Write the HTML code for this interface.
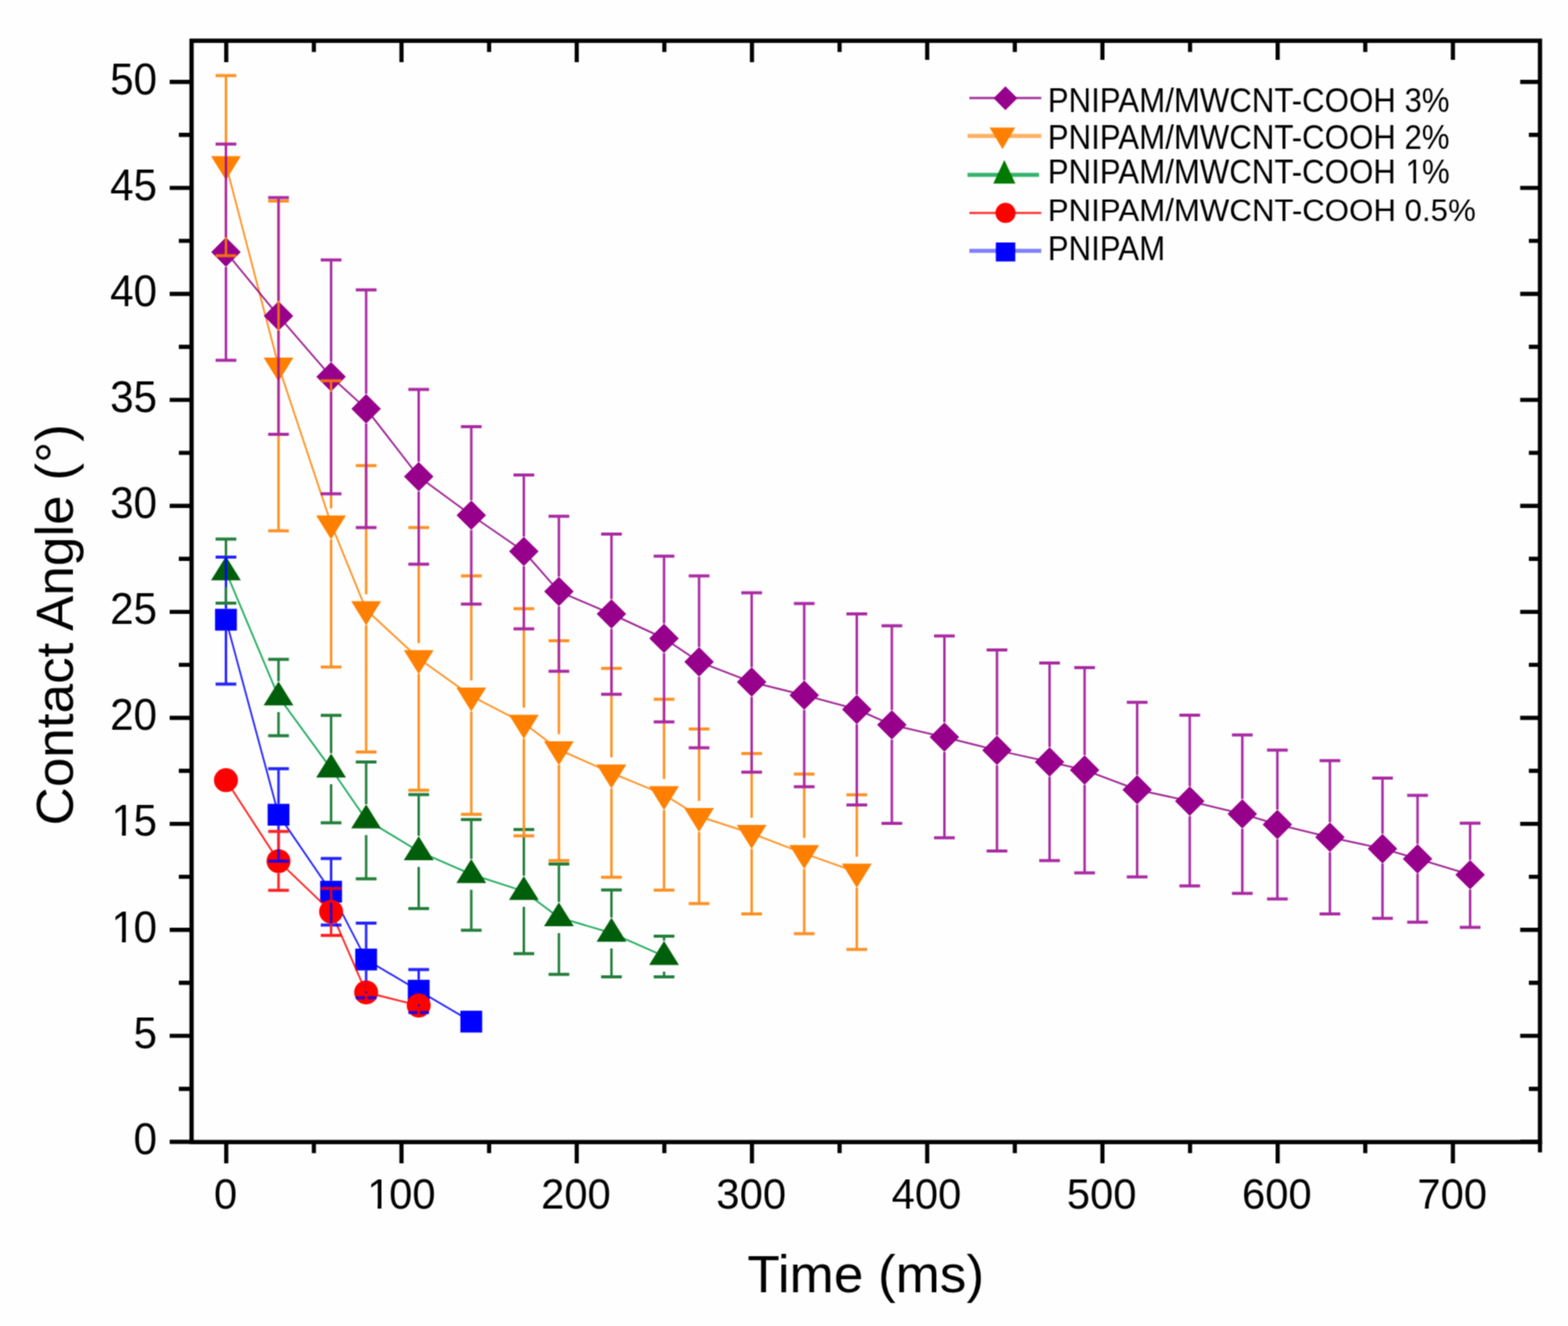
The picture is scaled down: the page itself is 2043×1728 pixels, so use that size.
<!DOCTYPE html>
<html lang="en"><head><meta charset="utf-8">
<title>Contact Angle vs Time</title>
<style>
html,body{margin:0;padding:0;background:#fff;}
body{width:2043px;height:1728px;}
svg{display:block;}
text{font-family:"Liberation Sans",sans-serif;fill:#000;}
.tk{font-size:56.4px;}
.ax{font-size:69.1px;}
.lg{font-size:40.7px;}
</style></head><body>
<svg width="2043" height="1728" viewBox="0 0 2043 1728">
<defs><filter id="soft" x="0" y="0" width="2043" height="1728" filterUnits="userSpaceOnUse" color-interpolation-filters="sRGB"><feConvolveMatrix order="3" kernelMatrix="1 2 1 2 5 2 1 2 1" divisor="17" edgeMode="duplicate" preserveAlpha="true"/></filter></defs>
<rect width="2043" height="1728" fill="#fefefe"/>
<g filter="url(#soft)">
<rect width="2043" height="1728" fill="#fefefe"/>
<g id="series">
<polyline points="294.4,807.57 362.9,1061.73 431.39,1162.01 477.06,1250.42 545.55,1291.03 614.05,1331.36" fill="none" stroke="#0000ff" stroke-width="2.3" stroke-opacity="0.86"/>
<rect x="280.2" y="793.37" width="28.4" height="28.4" fill="#0000ff"/>
<rect x="348.7" y="1047.53" width="28.4" height="28.4" fill="#0000ff"/>
<rect x="417.19" y="1147.81" width="28.4" height="28.4" fill="#0000ff"/>
<rect x="462.86" y="1236.22" width="28.4" height="28.4" fill="#0000ff"/>
<rect x="531.35" y="1276.83" width="28.4" height="28.4" fill="#0000ff"/>
<rect x="599.85" y="1317.16" width="28.4" height="28.4" fill="#0000ff"/>
<polyline points="294.4,1016.7 362.9,1122.23 431.39,1187.98 477.06,1293.24 545.55,1310.36" fill="none" stroke="#ff0000" stroke-width="2.3" stroke-opacity="0.86"/>
<circle cx="294.4" cy="1016.7" r="15.6" fill="#ff0000"/>
<circle cx="362.9" cy="1122.23" r="15.6" fill="#ff0000"/>
<circle cx="431.39" cy="1187.98" r="15.6" fill="#ff0000"/>
<circle cx="477.06" cy="1293.24" r="15.6" fill="#ff0000"/>
<circle cx="545.55" cy="1310.36" r="15.6" fill="#ff0000"/>
<polyline points="294.4,744.86 362.9,907.85 431.39,1001.78 477.06,1068.08 545.55,1109.52 614.05,1139.36 682.54,1161.46 728.21,1195.72 796.7,1215.88 865.2,1246" fill="none" stroke="#00a048" stroke-width="2.3" stroke-opacity="0.86"/>
<path d="M275 756.26L313.8 756.26L294.4 725.06Z" fill="#005f0a"/>
<path d="M343.5 919.25L382.3 919.25L362.9 888.05Z" fill="#005f0a"/>
<path d="M411.99 1013.18L450.79 1013.18L431.39 981.98Z" fill="#005f0a"/>
<path d="M457.66 1079.48L496.46 1079.48L477.06 1048.28Z" fill="#005f0a"/>
<path d="M526.15 1120.92L564.95 1120.92L545.55 1089.72Z" fill="#005f0a"/>
<path d="M594.65 1150.76L633.45 1150.76L614.05 1119.56Z" fill="#005f0a"/>
<path d="M663.14 1172.86L701.94 1172.86L682.54 1141.66Z" fill="#005f0a"/>
<path d="M708.81 1207.12L747.61 1207.12L728.21 1175.92Z" fill="#005f0a"/>
<path d="M777.3 1227.28L816.1 1227.28L796.7 1196.08Z" fill="#005f0a"/>
<path d="M845.8 1257.4L884.6 1257.4L865.2 1226.2Z" fill="#005f0a"/>
<polyline points="294.4,214.44 362.9,476.89 431.39,682.7 477.06,794.59 545.55,858.13 614.05,907.03 682.54,942.39 728.21,976.92 796.7,1007.31 865.2,1035.49 910.86,1063.94 979.36,1086.04 1047.86,1112.29 1116.35,1136.6" fill="none" stroke="#ff8000" stroke-width="2.3" stroke-opacity="0.86"/>
<path d="M275 203.44L313.8 203.44L294.4 234.74Z" fill="#ff8000"/>
<path d="M343.5 465.89L382.3 465.89L362.9 497.19Z" fill="#ff8000"/>
<path d="M411.99 671.7L450.79 671.7L431.39 703Z" fill="#ff8000"/>
<path d="M457.66 783.59L496.46 783.59L477.06 814.89Z" fill="#ff8000"/>
<path d="M526.15 847.13L564.95 847.13L545.55 878.43Z" fill="#ff8000"/>
<path d="M594.65 896.03L633.45 896.03L614.05 927.33Z" fill="#ff8000"/>
<path d="M663.14 931.39L701.94 931.39L682.54 962.69Z" fill="#ff8000"/>
<path d="M708.81 965.92L747.61 965.92L728.21 997.22Z" fill="#ff8000"/>
<path d="M777.3 996.31L816.1 996.31L796.7 1027.61Z" fill="#ff8000"/>
<path d="M845.8 1024.49L884.6 1024.49L865.2 1055.79Z" fill="#ff8000"/>
<path d="M891.46 1052.94L930.26 1052.94L910.86 1084.24Z" fill="#ff8000"/>
<path d="M959.96 1075.04L998.76 1075.04L979.36 1106.34Z" fill="#ff8000"/>
<path d="M1028.46 1101.29L1067.26 1101.29L1047.86 1132.59Z" fill="#ff8000"/>
<path d="M1096.95 1125.6L1135.75 1125.6L1116.35 1156.9Z" fill="#ff8000"/>
<polyline points="294.4,328.54 362.9,411.69 431.39,490.98 477.06,532.69 545.55,621.1 614.05,671.38 682.54,718.62 728.21,770.83 796.7,800.11 865.2,831.88 910.86,862.55 979.36,888.79 1047.86,905.92 1116.35,924.43 1162.02,944.6 1230.51,960.62 1299.01,977.75 1367.5,992.94 1413.17,1003.44 1481.66,1029.13 1550.16,1044.05 1618.66,1060.63 1664.32,1074.44 1732.82,1091.01 1801.31,1105.93 1846.98,1119.19 1915.47,1139.91" fill="none" stroke="#8e0084" stroke-width="2.3" stroke-opacity="0.86"/>
<path d="M294.4 309.34L313.6 328.54L294.4 347.74L275.2 328.54Z" fill="#96008a"/>
<path d="M362.9 392.49L382.1 411.69L362.9 430.89L343.7 411.69Z" fill="#96008a"/>
<path d="M431.39 471.78L450.59 490.98L431.39 510.18L412.19 490.98Z" fill="#96008a"/>
<path d="M477.06 513.49L496.26 532.69L477.06 551.89L457.86 532.69Z" fill="#96008a"/>
<path d="M545.55 601.9L564.75 621.1L545.55 640.3L526.35 621.1Z" fill="#96008a"/>
<path d="M614.05 652.18L633.25 671.38L614.05 690.58L594.85 671.38Z" fill="#96008a"/>
<path d="M682.54 699.42L701.74 718.62L682.54 737.82L663.34 718.62Z" fill="#96008a"/>
<path d="M728.21 751.63L747.41 770.83L728.21 790.03L709.01 770.83Z" fill="#96008a"/>
<path d="M796.7 780.91L815.9 800.11L796.7 819.31L777.5 800.11Z" fill="#96008a"/>
<path d="M865.2 812.68L884.4 831.88L865.2 851.08L846 831.88Z" fill="#96008a"/>
<path d="M910.86 843.35L930.06 862.55L910.86 881.75L891.66 862.55Z" fill="#96008a"/>
<path d="M979.36 869.59L998.56 888.79L979.36 907.99L960.16 888.79Z" fill="#96008a"/>
<path d="M1047.86 886.72L1067.06 905.92L1047.86 925.12L1028.66 905.92Z" fill="#96008a"/>
<path d="M1116.35 905.23L1135.55 924.43L1116.35 943.63L1097.15 924.43Z" fill="#96008a"/>
<path d="M1162.02 925.4L1181.22 944.6L1162.02 963.8L1142.82 944.6Z" fill="#96008a"/>
<path d="M1230.51 941.42L1249.71 960.62L1230.51 979.82L1211.31 960.62Z" fill="#96008a"/>
<path d="M1299.01 958.55L1318.21 977.75L1299.01 996.95L1279.81 977.75Z" fill="#96008a"/>
<path d="M1367.5 973.74L1386.7 992.94L1367.5 1012.14L1348.3 992.94Z" fill="#96008a"/>
<path d="M1413.17 984.24L1432.37 1003.44L1413.17 1022.64L1393.97 1003.44Z" fill="#96008a"/>
<path d="M1481.66 1009.93L1500.86 1029.13L1481.66 1048.33L1462.46 1029.13Z" fill="#96008a"/>
<path d="M1550.16 1024.85L1569.36 1044.05L1550.16 1063.25L1530.96 1044.05Z" fill="#96008a"/>
<path d="M1618.66 1041.43L1637.86 1060.63L1618.66 1079.83L1599.46 1060.63Z" fill="#96008a"/>
<path d="M1664.32 1055.24L1683.52 1074.44L1664.32 1093.64L1645.12 1074.44Z" fill="#96008a"/>
<path d="M1732.82 1071.81L1752.02 1091.01L1732.82 1110.21L1713.62 1091.01Z" fill="#96008a"/>
<path d="M1801.31 1086.73L1820.51 1105.93L1801.31 1125.13L1782.11 1105.93Z" fill="#96008a"/>
<path d="M1846.98 1099.99L1866.18 1119.19L1846.98 1138.39L1827.78 1119.19Z" fill="#96008a"/>
<path d="M1915.47 1120.71L1934.67 1139.91L1915.47 1159.11L1896.27 1139.91Z" fill="#96008a"/>
</g>
<g id="errors" fill="none" opacity="0.86">
<path d="M294.4 726.07V793.37M294.4 821.77V891.55M362.9 1001.78V1047.53M362.9 1075.93V1122.23M431.39 1118.64V1147.81M431.39 1176.21V1205.39M477.06 1202.9V1236.22M477.06 1264.62V1300.14M545.55 1263.4V1276.83M545.55 1305.23V1319.48" stroke="#0000ff" stroke-width="3.2"/>
<path d="M280.9 726.07H307.9M280.9 891.55H307.9M349.4 1001.78H376.4M349.4 1122.23H376.4M417.89 1118.64H444.89M417.89 1205.39H444.89M463.56 1202.9H490.56M463.56 1300.14H490.56M532.05 1263.4H559.05M532.05 1319.48H559.05" stroke="#0000ff" stroke-width="4.0"/>
<path d="M362.9 1083.56V1106.63M362.9 1137.83V1160.36M431.39 1157.87V1172.38M431.39 1203.58V1218.92M477.06 1290.2V1277.64M477.06 1308.84V1296.28M545.55 1307.33V1294.76M545.55 1325.96V1313.4" stroke="#ff0000" stroke-width="3.2"/>
<path d="M349.4 1083.56H376.4M349.4 1160.36H376.4M417.89 1157.87H444.89M417.89 1218.92H444.89M463.56 1290.2H490.56M463.56 1296.28H490.56M532.05 1307.33H559.05M532.05 1313.4H559.05" stroke="#ff0000" stroke-width="4.0"/>
<path d="M294.4 702.59V724.66M294.4 765.06V786.02M362.9 859.23V887.65M362.9 928.05V958.69M431.39 932.16V981.58M431.39 1021.98V1072.23M477.06 992.94V1047.88M477.06 1088.28V1145.16M545.55 1035.49V1089.32M545.55 1129.72V1184.11M614.05 1068.08V1119.16M614.05 1159.56V1212.29M682.54 1081.07V1141.26M682.54 1181.66V1242.68M728.21 1126.1V1175.52M728.21 1215.92V1269.75M796.7 1159.8V1195.68M796.7 1236.08V1273.07M865.2 1220.03V1225.8M865.2 1266.2V1273.07" stroke="#006a1c" stroke-width="3.2"/>
<path d="M280.9 702.59H307.9M280.9 786.02H307.9M349.4 859.23H376.4M349.4 958.69H376.4M417.89 932.16H444.89M417.89 1072.23H444.89M463.56 992.94H490.56M463.56 1145.16H490.56M532.05 1035.49H559.05M532.05 1184.11H559.05M600.55 1068.08H627.55M600.55 1212.29H627.55M669.04 1081.07H696.04M669.04 1242.68H696.04M714.71 1126.1H741.71M714.71 1269.75H741.71M783.2 1159.8H810.2M783.2 1273.07H810.2M851.7 1220.03H878.7M851.7 1273.07H878.7" stroke="#006a1c" stroke-width="4.0"/>
<path d="M294.4 98.41V194.24M294.4 234.64V333.23M362.9 261.96V456.69M362.9 497.09V691.82M431.39 496.23V662.5M431.39 702.9V869.18M477.06 606.73V774.39M477.06 814.79V979.96M545.55 687.4V837.93M545.55 878.33V1029.68M614.05 750.39V886.83M614.05 927.23V1061.18M682.54 793.21V922.19M682.54 962.59V1089.36M728.21 834.92V956.72M728.21 997.12V1121.4M796.7 871.11V987.11M796.7 1027.51V1143.23M865.2 911.17V1015.29M865.2 1055.69V1160.08M910.86 950.12V1043.74M910.86 1084.14V1177.48M979.36 981.89V1065.84M979.36 1106.24V1191.02M1047.86 1008.69V1092.09M1047.86 1132.49V1216.71M1116.35 1035.76V1116.4M1116.35 1156.8V1237.16" stroke="#ff8000" stroke-width="3.2"/>
<path d="M280.9 98.41H307.9M280.9 333.23H307.9M349.4 261.96H376.4M349.4 691.82H376.4M417.89 496.23H444.89M417.89 869.18H444.89M463.56 606.73H490.56M463.56 979.96H490.56M532.05 687.4H559.05M532.05 1029.68H559.05M600.55 750.39H627.55M600.55 1061.18H627.55M669.04 793.21H696.04M669.04 1089.36H696.04M714.71 834.92H741.71M714.71 1121.4H741.71M783.2 871.11H810.2M783.2 1143.23H810.2M851.7 911.17H878.7M851.7 1160.08H878.7M897.36 950.12H924.36M897.36 1177.48H924.36M965.86 981.89H992.86M965.86 1191.02H992.86M1034.36 1008.69H1061.36M1034.36 1216.71H1061.36M1102.85 1035.76H1129.85M1102.85 1237.16H1129.85" stroke="#ff8000" stroke-width="4.0"/>
<path d="M294.4 187.64V309.14M294.4 347.94V469.43M362.9 257.54V392.29M362.9 431.09V566.12M431.39 338.76V471.58M431.39 510.38V643.47M477.06 377.71V513.29M477.06 552.09V687.4M545.55 507.55V601.7M545.55 640.5V735.19M614.05 555.9V651.98M614.05 690.78V787.13M682.54 618.89V699.22M682.54 738.02V819.45M728.21 672.76V751.43M728.21 790.23V874.7M796.7 695.96V780.71M796.7 819.51V904.82M865.2 724.69V812.48M865.2 851.28V940.73M910.86 750.39V843.15M910.86 881.95V974.43M979.36 772.49V869.39M979.36 908.19V1006.2M1047.86 786.58V886.52M1047.86 925.32V1025.26M1116.35 800.11V905.03M1116.35 943.83V1049.02M1162.02 815.58V925.2M1162.02 964V1073.06M1230.51 828.84V941.22M1230.51 980.02V1091.84M1299.01 847.08V958.35M1299.01 997.15V1108.97M1367.5 863.93V973.54M1367.5 1012.34V1121.4M1413.17 870.01V984.04M1413.17 1022.84V1137.43M1481.66 915.31V1009.73M1481.66 1048.53V1142.67M1550.16 931.89V1024.65M1550.16 1063.45V1154.55M1618.66 957.86V1041.23M1618.66 1080.03V1164.22M1664.32 977.47V1055.04M1664.32 1093.84V1171.41M1732.82 991.28V1071.61M1732.82 1110.41V1191.02M1801.31 1013.94V1086.53M1801.31 1125.33V1196.82M1846.98 1036.59V1099.79M1846.98 1138.59V1201.79M1915.47 1072.78V1120.51M1915.47 1159.31V1208.42" stroke="#9c0894" stroke-width="3.2"/>
<path d="M280.9 187.64H307.9M280.9 469.43H307.9M349.4 257.54H376.4M349.4 566.12H376.4M417.89 338.76H444.89M417.89 643.47H444.89M463.56 377.71H490.56M463.56 687.4H490.56M532.05 507.55H559.05M532.05 735.19H559.05M600.55 555.9H627.55M600.55 787.13H627.55M669.04 618.89H696.04M669.04 819.45H696.04M714.71 672.76H741.71M714.71 874.7H741.71M783.2 695.96H810.2M783.2 904.82H810.2M851.7 724.69H878.7M851.7 940.73H878.7M897.36 750.39H924.36M897.36 974.43H924.36M965.86 772.49H992.86M965.86 1006.2H992.86M1034.36 786.58H1061.36M1034.36 1025.26H1061.36M1102.85 800.11H1129.85M1102.85 1049.02H1129.85M1148.52 815.58H1175.52M1148.52 1073.06H1175.52M1217.01 828.84H1244.01M1217.01 1091.84H1244.01M1285.51 847.08H1312.51M1285.51 1108.97H1312.51M1354 863.93H1381M1354 1121.4H1381M1399.67 870.01H1426.67M1399.67 1137.43H1426.67M1468.16 915.31H1495.16M1468.16 1142.67H1495.16M1536.66 931.89H1563.66M1536.66 1154.55H1563.66M1605.16 957.86H1632.16M1605.16 1164.22H1632.16M1650.82 977.47H1677.82M1650.82 1171.41H1677.82M1719.32 991.28H1746.32M1719.32 1191.02H1746.32M1787.81 1013.94H1814.81M1787.81 1196.82H1814.81M1833.48 1036.59H1860.48M1833.48 1201.79H1860.48M1901.97 1072.78H1928.97M1901.97 1208.42H1928.97" stroke="#9c0894" stroke-width="4.0"/>
</g>
<g id="axes" stroke="#000" fill="none">
<rect x="249.6" y="53.1" width="1756.9" height="1435.2" stroke-width="5.6"/>
<path d="M294.8 1488.3v27.6M294.8 53.1v27.8M408.96 1488.3v14.5M408.96 53.1v14.6M523.12 1488.3v27.6M523.12 53.1v27.8M637.28 1488.3v14.5M637.28 53.1v14.6M751.44 1488.3v27.6M751.44 53.1v27.8M865.6 1488.3v14.5M865.6 53.1v14.6M979.76 1488.3v27.6M979.76 53.1v27.8M1093.92 1488.3v14.5M1093.92 53.1v14.6M1208.08 1488.3v27.6M1208.08 53.1v25M1322.24 1488.3v14.5M1322.24 53.1v14.6M1436.4 1488.3v27.6M1436.4 53.1v25M1550.56 1488.3v14.5M1550.56 53.1v14.6M1664.72 1488.3v27.6M1664.72 53.1v25M1778.88 1488.3v14.5M1778.88 53.1v14.6M1893.04 1488.3v27.6M1893.04 53.1v25M2006.5 1488.3v13.4M249.6 1488h-28.5M2006.5 1488h-25.8M249.6 1418.93h-16.6M2006.5 1418.93h-14.5M249.6 1349.87h-28.5M2006.5 1349.87h-25.8M249.6 1280.81h-16.6M2006.5 1280.81h-14.5M249.6 1211.74h-28.5M2006.5 1211.74h-25.8M249.6 1142.67h-16.6M2006.5 1142.67h-14.5M249.6 1073.61h-28.5M2006.5 1073.61h-25.8M249.6 1004.54h-16.6M2006.5 1004.54h-14.5M249.6 935.48h-28.5M2006.5 935.48h-25.8M249.6 866.41h-16.6M2006.5 866.41h-14.5M249.6 797.35h-28.5M2006.5 797.35h-25.8M249.6 728.28h-16.6M2006.5 728.28h-14.5M249.6 659.22h-28.5M2006.5 659.22h-25.8M249.6 590.15h-16.6M2006.5 590.15h-14.5M249.6 521.09h-28.5M2006.5 521.09h-25.8M249.6 452.02h-16.6M2006.5 452.02h-14.5M249.6 382.96h-28.5M2006.5 382.96h-25.8M249.6 313.89h-16.6M2006.5 313.89h-14.5M249.6 244.83h-28.5M2006.5 244.83h-25.8M249.6 175.76h-16.6M2006.5 175.76h-14.5M249.6 106.7h-28.5M2006.5 106.7h-25.8" stroke-width="5.4"/>
</g>
<g id="ticklabels">
<text class="tk" transform="translate(293.8 1575.2) scale(0.965 0.99)" text-anchor="middle">0</text>
<g transform="translate(522.12 1575.2) scale(0.965 0.99)"><text class="tk" x="-45.32 -15.68 15.68">100</text><rect x="-42.29" y="-5.92" width="11.05" height="6.75" fill="#fefefe"/><rect x="-26.05" y="-5.92" width="10.88" height="6.75" fill="#fefefe"/></g>
<text class="tk" transform="translate(750.44 1575.2) scale(0.965 0.99)" text-anchor="middle">200</text>
<text class="tk" transform="translate(978.76 1575.2) scale(0.965 0.99)" text-anchor="middle">300</text>
<text class="tk" transform="translate(1207.08 1575.2) scale(0.965 0.99)" text-anchor="middle">400</text>
<text class="tk" transform="translate(1435.4 1575.2) scale(0.965 0.99)" text-anchor="middle">500</text>
<text class="tk" transform="translate(1663.72 1575.2) scale(0.965 0.99)" text-anchor="middle">600</text>
<text class="tk" transform="translate(1892.04 1575.2) scale(0.965 0.99)" text-anchor="middle">700</text>
<text class="tk" transform="translate(204.6 1503.8) scale(0.975 1.02)" text-anchor="end">0</text>
<text class="tk" transform="translate(204.6 1365.67) scale(0.975 1.02)" text-anchor="end">5</text>
<g transform="translate(204.6 1227.54) scale(0.975 1.02)"><text class="tk" x="-61 -31.37">10</text><rect x="-57.97" y="-5.92" width="11.05" height="6.75" fill="#fefefe"/><rect x="-41.73" y="-5.92" width="10.88" height="6.75" fill="#fefefe"/></g>
<g transform="translate(204.6 1089.41) scale(0.975 1.02)"><text class="tk" x="-61 -31.37">15</text><rect x="-57.97" y="-5.92" width="11.05" height="6.75" fill="#fefefe"/><rect x="-41.73" y="-5.92" width="10.88" height="6.75" fill="#fefefe"/></g>
<text class="tk" transform="translate(204.6 951.28) scale(0.975 1.02)" text-anchor="end">20</text>
<text class="tk" transform="translate(204.6 813.15) scale(0.975 1.02)" text-anchor="end">25</text>
<text class="tk" transform="translate(204.6 675.02) scale(0.975 1.02)" text-anchor="end">30</text>
<text class="tk" transform="translate(204.6 536.89) scale(0.975 1.02)" text-anchor="end">35</text>
<text class="tk" transform="translate(204.6 398.76) scale(0.975 1.02)" text-anchor="end">40</text>
<text class="tk" transform="translate(204.6 260.63) scale(0.975 1.02)" text-anchor="end">45</text>
<text class="tk" transform="translate(204.6 122.5) scale(0.975 1.02)" text-anchor="end">50</text>
</g>
<text class="ax" x="1128" y="1684" text-anchor="middle">Time (ms)</text>
<text class="ax" transform="translate(95.2 814.2) rotate(-90)" text-anchor="middle">Contact Angle (°)</text>
<g id="legend">
<path d="M1263 127.8H1356.7" stroke="#8e0084" stroke-width="3.0" opacity="0.8" fill="none"/>
<path d="M1310 112.6L1325.6 128L1310 143.4L1294.6 128Z" fill="#96008a"/>
<text class="lg" transform="translate(1365.2 145.7) scale(1 1.07)">PNIPAM/MWCNT-COOH 3%</text>
<path d="M1260.6 177.2H1356.7" stroke="#ff8000" stroke-width="5.2" opacity="0.62" fill="none"/>
<path d="M1289.4 166.2H1322.8L1306.1 194.2Z" fill="#ff8000"/>
<text class="lg" transform="translate(1365.2 194.2) scale(1 1.07)">PNIPAM/MWCNT-COOH 2%</text>
<path d="M1260.6 227.9H1353.8" stroke="#00a048" stroke-width="5.2" opacity="0.8" fill="none"/>
<path d="M1294.2 239.2H1323L1308.6 208.6Z" fill="#007a00"/>
<g transform="translate(1365.2 239) scale(1 1.07)"><text class="lg">PNIPAM/MWCNT-COOH <tspan x="466.11">1</tspan><tspan x="487.5">%</tspan></text><rect x="468.3" y="-4.27" width="7.95" height="4.87" fill="#fefefe"/><rect x="480.04" y="-4.27" width="7.85" height="4.87" fill="#fefefe"/></g>
<path d="M1263 277.5H1356.7" stroke="#ff0000" stroke-width="3.2" opacity="0.75" fill="none"/>
<circle cx="1310.1" cy="277.4" r="13.1" fill="#ff0000"/>
<text class="lg" transform="translate(1365.2 288) scale(1 1.0)">PNIPAM/MWCNT-COOH 0.5%</text>
<path d="M1263 326.9H1356.7" stroke="#0000ff" stroke-width="5.2" opacity="0.5" fill="none"/>
<rect x="1297.5" y="316" width="25.3" height="24.7" fill="#0000ff"/>
<text class="lg" transform="translate(1365.2 338.8) scale(1 1.07)">PNIPAM</text>
</g>
</g>
</svg>
</body></html>
